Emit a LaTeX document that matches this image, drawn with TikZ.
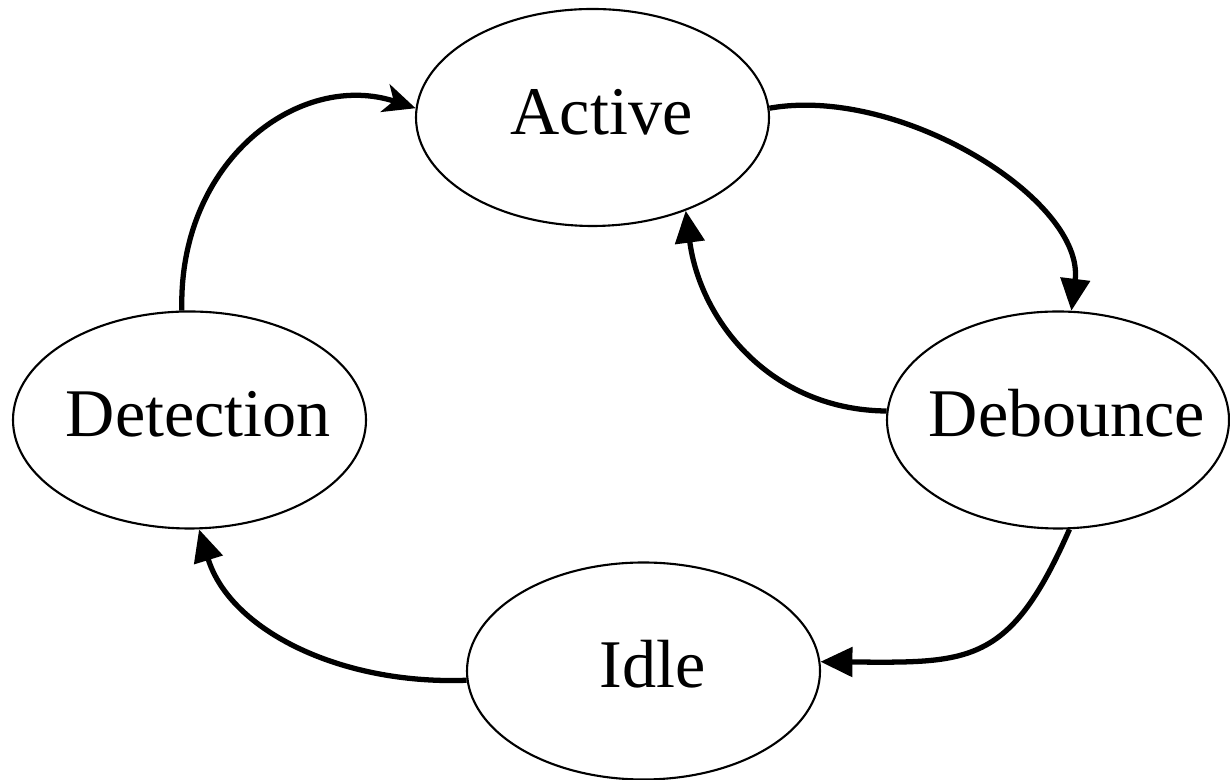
\documentclass[tikz,border=0pt]{standalone}
\usepackage{fontspec}
\setmainfont{Liberation Serif}
\usetikzlibrary{arrows.meta, shapes.geometric}

\begin{document}
\begin{tikzpicture}[>={Triangle[length=3.2mm,width=2.9mm]},
      every node/.style={font=\fontsize{19.4}{23}\selectfont},
      statenode/.style={draw, ellipse, line width=0.6pt, minimum width=3.53cm,
        minimum height=2.17cm, inner xsep=-3mm, inner ysep=0pt,
        text height=4.7mm, text depth=1.3mm,
        execute at begin node=\hspace*{1.8mm}},
      trans/.style={->, line width=1.5pt}]
      \useasboundingbox (0,0) rectangle (12.3,7.8);
      \node[statenode] (active) at (5.925,6.625) {Active};
      \node[statenode] (detect) at (1.895,3.60) {Detection};
      \node[statenode, minimum width=3.42cm] (debounce) at (10.58,3.60) {Debounce};
      \node[statenode] (idle) at (6.435,1.09) {Idle};
      % transitions
      \draw[trans, -{Stealth[length=3.2mm,width=2.9mm,inset=0.9mm]}]
        (detect.94) .. controls (1.78,6.2) and (3.0,7.1) .. (active.177);
      \draw[trans] (active.3) .. controls (9.0,6.95) and (10.85,5.8) .. (debounce.83);
      \draw[trans] (debounce.177) .. controls (7.7,3.7) and (7.0,4.6) .. (active.-45);
      \draw[trans] (debounce.-84) .. controls (10.1,1.15) and (9.7,1.17) .. (idle.3);
      \draw[trans] (idle.183) .. controls (3.4,0.95) and (2.3,1.5) .. (detect.-85);
    \end{tikzpicture}
\end{document}
